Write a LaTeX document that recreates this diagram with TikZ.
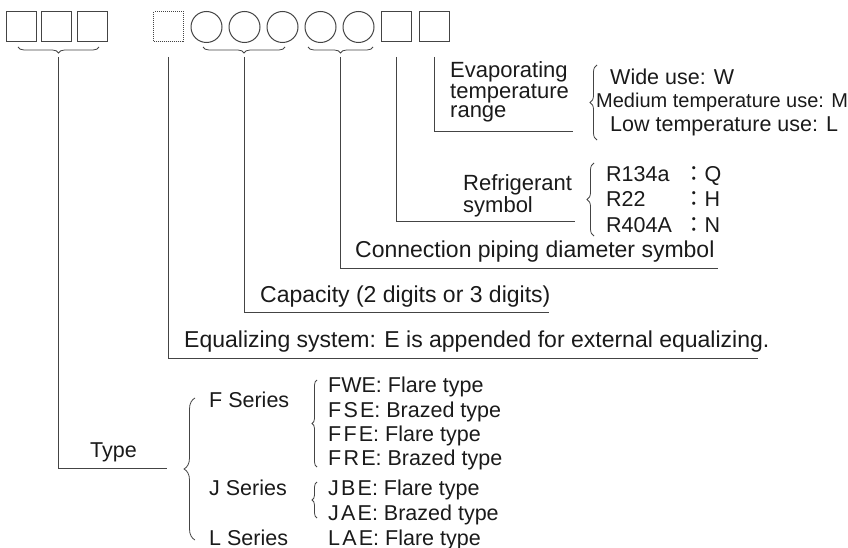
\documentclass[tikz,border=0pt]{standalone}
\usepackage{fontspec}
\setmainfont{Liberation Sans}
\newfontfamily\cjkfont{Noto Sans CJK JP}
\usetikzlibrary{decorations.pathreplacing}
\definecolor{txt}{HTML}{1A1A1A}
\definecolor{ln}{HTML}{444444}
\newcommand\fsz[1]{\fontsize{#1}{#1}\selectfont}
\newcommand\ls{\kern2.2pt}
\begin{document}
\begin{tikzpicture}[x=1pt,y=-1pt,
  lbl/.style={inner sep=0pt, anchor=base west, text=txt, font=\fsz{21.5}},
  mid/.style={lbl, font=\fsz{22}},
  big/.style={lbl, font=\fsz{23}},
  sm/.style={lbl, font=\fsz{20}},
  sq/.style={draw=ln, line width=1pt, minimum size=30pt, inner sep=0pt},
  dsq/.style={sq, densely dotted},
  circ/.style={draw=ln, line width=1pt, circle, minimum size=31pt, inner sep=0pt},
  lead/.style={draw=ln, line width=0.9pt},
  brc/.style={decorate, decoration={brace, amplitude=#1, aspect=0.5}, draw=ln, line width=0.8pt},
  brc/.default=6pt
]
\useasboundingbox (0,0) rectangle (848,548);

% top row of code positions
\node[sq] (s1) at (21,27) {};
\node[sq] (s2) at (56.5,27) {};
\node[sq] (s3) at (92,27) {};
\node[dsq] (d1) at (168.5,27) {};
\node[circ] (c1) at (206.5,27) {};
\node[circ] (c2) at (244.5,27) {};
\node[circ] (c3) at (282.5,27) {};
\node[circ] (c4) at (320.5,27) {};
\node[circ] (c5) at (358.5,27) {};
\node[sq] (s4) at (396.5,27) {};
\node[sq] (s5) at (434.5,27) {};

% braces under the code
\draw[brc] (99,47) -- (18,47);
\draw[brc] (285,47) -- (203,47);
\draw[brc] (373,47) -- (308,47);

% leader coordinates
\coordinate (a1) at (58,57);   \coordinate (a2) at (58,468);  \coordinate (a3) at (167,468);
\coordinate (b1) at (168,57);  \coordinate (b2) at (168,358); \coordinate (b3) at (758,358);
\coordinate (e1) at (244,57);  \coordinate (e2) at (244,312); \coordinate (e3) at (549,312);
\coordinate (f1) at (340,57);  \coordinate (f2) at (340,268); \coordinate (f3) at (718,268);
\coordinate (g1) at (396,57);  \coordinate (g2) at (396,221); \coordinate (g3) at (575,221);
\coordinate (h1) at (434,57);  \coordinate (h2) at (434,131); \coordinate (h3) at (573,131);
\draw[lead] (a1) -- (a2) -- (a3);
\draw[lead] (b1) -- (b2) -- (b3);
\draw[lead] (e1) -- (e2) -- (e3);
\draw[lead] (f1) -- (f2) -- (f3);
\draw[lead] (g1) -- (g2) -- (g3);
\draw[lead] (h1) -- (h2) -- (h3);

% evaporating temperature range
\node[mid] (ev1) at (450,78) {Evaporating};
\node[mid] (ev2) at (450,98.5) {temperature};
\node[mid] (ev3) at (450,118) {range};
\draw[brc=7pt] (597,140) -- (597,65);
\node[lbl] (w1) at (610,85) {Wide use: W};
\node[sm] (w2) at (596,108) {Medium temperature use: M};
\node[lbl] (w3) at (610,132) {Low temperature use: L};

% refrigerant symbol
\node[mid] (rf1) at (463,191) {Refrigerant};
\node[mid] (rf2) at (463,212) {symbol};
\draw[brc=7pt] (594,236) -- (594,163);
\node[lbl] (r1) at (606,182) {R134a};
\node[lbl] (r2) at (606,207) {R22};
\node[lbl] (r3) at (606,232) {R404A};
\node[lbl] (q1) at (683,182) {{\cjkfont ：}Q};
\node[lbl] (q2) at (683,207) {{\cjkfont ：}H};
\node[lbl] (q3) at (683,232) {{\cjkfont ：}N};

% other labels
\node[big] (cn) at (355,257) {Connection piping diameter symbol};
\node[big] (cp) at (260,302) {Capacity (2 digits or 3 digits)};
\node[big] (eq) at (184,347) {Equalizing system: E is appended for external equalizing.};
\node[lbl] (ty) at (90,457) {Type};

% series
\draw[brc=11pt] (195,540) -- (195,398);
\node[lbl] (fs) at (209,407) {F Series};
\node[lbl] (js) at (209,495) {J Series};
\node[lbl] (ls) at (209,545) {L Series};
\draw[brc=5pt] (317,467) -- (317,380);
\draw[brc=5pt] (317,518) -- (317,482);
\node[lbl] (m1) at (328,392) {FWE: Flare type};
\node[lbl] (m2) at (328,417) {F\ls S\ls E: Brazed type};
\node[lbl] (m3) at (328,441) {F\ls F\ls E: Flare type};
\node[lbl] (m4) at (328,465) {F\ls R\ls E: Brazed type};
\node[lbl] (m5) at (328,495) {J\ls B\ls E: Flare type};
\node[lbl] (m6) at (328,520) {J\ls A\ls E: Brazed type};
\node[lbl] (m7) at (328,545) {L\ls A\ls E: Flare type};
\end{tikzpicture}
\end{document}
